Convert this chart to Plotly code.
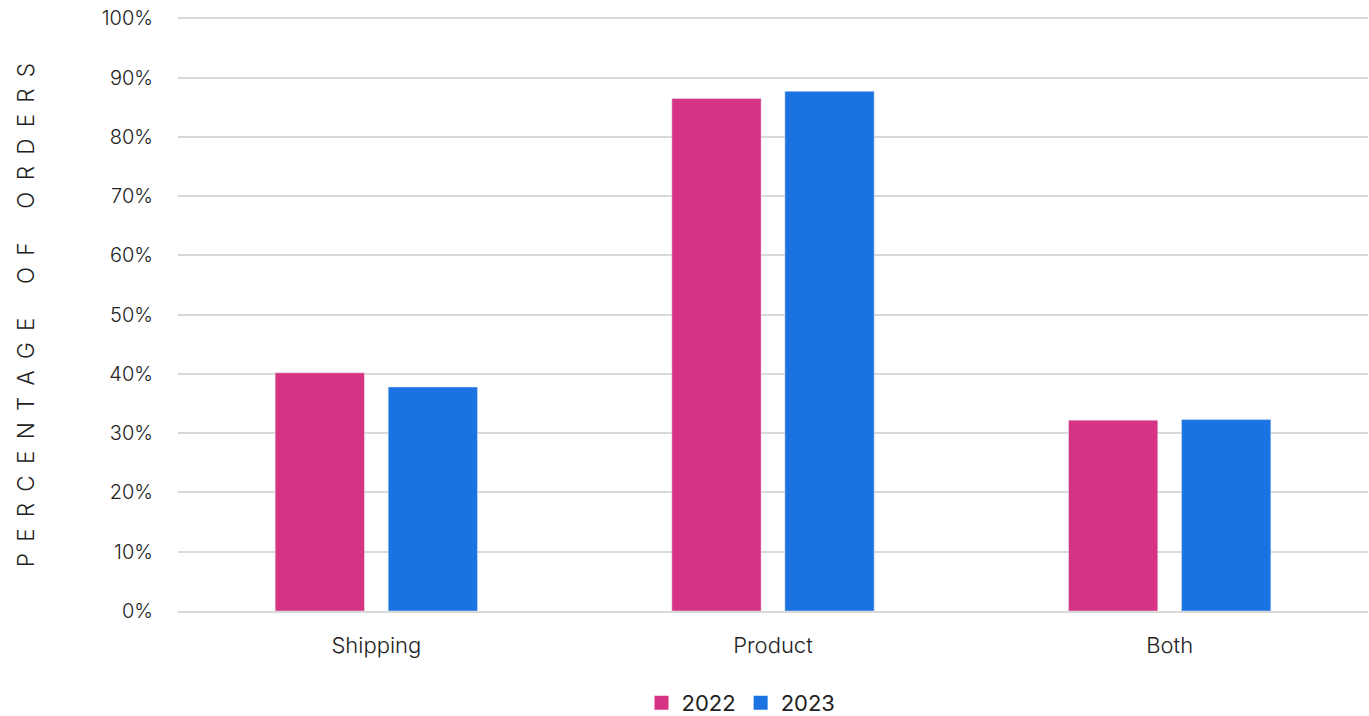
import plotly.graph_objects as go

categories = ["Shipping", "Product", "Both"]
values_2022 = [40.2, 86.5, 32.2]
values_2023 = [37.8, 87.7, 32.3]
series_names = ["2022", "2023"]
colors = ["#D63384", "#1A73E0"]
y_ticks = [0, 10, 20, 30, 40, 50, 60, 70, 80, 90, 100]
y_tick_labels = [f"{t}%" for t in y_ticks]
y_title = "PERCENTAGE OF ORDERS"

fig = go.Figure()
for name, vals, col in zip(series_names, [values_2022, values_2023], colors):
    fig.add_trace(go.Bar(name=name, x=categories, y=vals, marker_color=col,
                         showlegend=False, legendgroup=name))
for name, col in zip(series_names, colors):
    fig.add_trace(go.Scatter(name=name, x=[None], y=[None], mode="markers",
                             marker=dict(symbol="square", size=14, color=col),
                             showlegend=True, legendgroup=name))

font_family = "Inter, Lato, sans-serif"
spaced_title = "\u2002".join(ch if ch != " " else "\u2002" for ch in y_title)

W, H = 1369, 716
YMAX = 100.4
L, R, B = 178, 1, 105
ph = 593 * YMAX / 100
T = H - B - ph
pw = W - L - R

fig.update_layout(
    width=W, height=H,
    margin=dict(l=L, r=R, t=T, b=B, autoexpand=False),
    paper_bgcolor="white", plot_bgcolor="white",
    barmode="group", bargap=0.43, bargroupgap=0.21,
    font=dict(family=font_family, color="#222222"),
    legend=dict(orientation="h", x=0.5 - 32 / pw, xanchor="center",
                y=-(703 - (H - B)) / ph, yanchor="middle",
                font=dict(size=22, color="#222222"), itemwidth=30,
                traceorder="normal"),
    showlegend=True,
    annotations=[dict(text=spaced_title, textangle=-90,
                      x=(25 - L) / pw, xref="paper",
                      y=((H - B) - 315) / ph, yref="paper",
                      showarrow=False, xanchor="center", yanchor="middle",
                      font=dict(size=22.5, color="#222222", weight=300))],
)

fig.update_yaxes(range=[0, YMAX], tickvals=y_ticks, ticktext=y_tick_labels,
                 showgrid=True, gridcolor="#d9d9d9", gridwidth=1.5,
                 zeroline=False, showline=False, automargin=False,
                 tickfont=dict(size=20, color="#222222", weight=300), ticks="",
                 ticklabelstandoff=24, ticklabeloverflow="allow")
fig.update_xaxes(showline=True, linecolor="#d9d9d9", linewidth=1.5, automargin=False,
                 tickfont=dict(size=22, color="#222222", weight=300), ticks="",
                 ticklabelstandoff=14)

fig.write_html("out.html", config={"displayModeBar": False},
               post_script="document.body.style.margin='0';document.body.style.overflow='hidden';")
